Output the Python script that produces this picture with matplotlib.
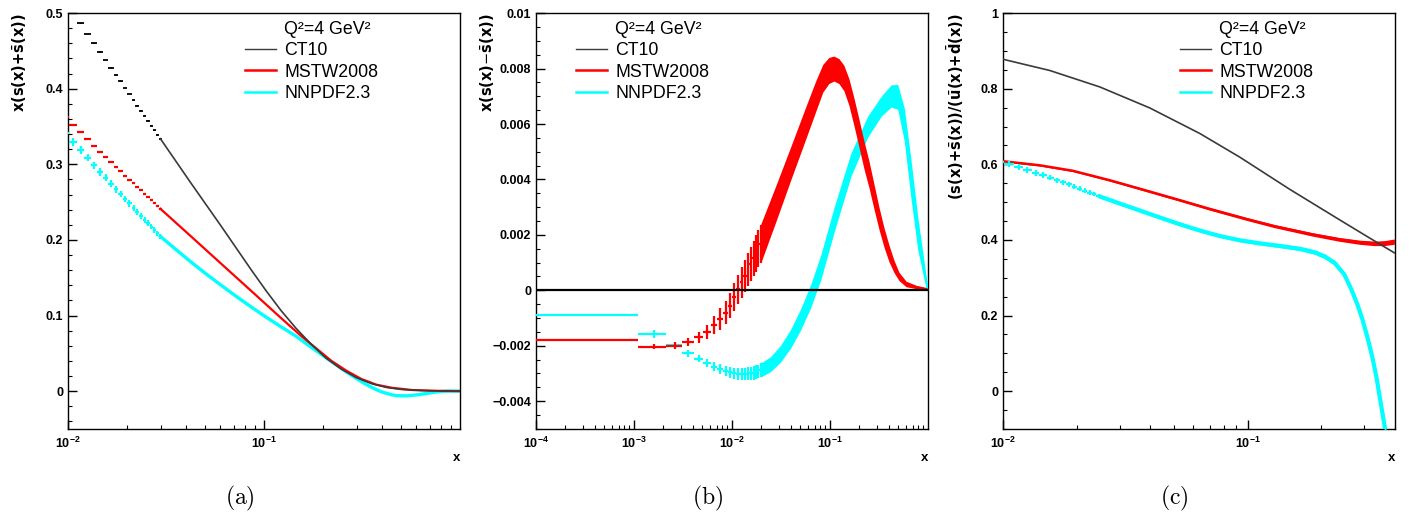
import numpy as np
import matplotlib
matplotlib.use('Agg')
import matplotlib.pyplot as plt
from matplotlib.lines import Line2D
from matplotlib.ticker import FixedLocator, MultipleLocator, NullFormatter

plt.rcParams['font.family'] = ['Liberation Sans', 'DejaVu Sans']
plt.rcParams['mathtext.fontset'] = 'custom'
plt.rcParams['mathtext.rm'] = 'Liberation Sans'
plt.rcParams['mathtext.bf'] = 'Liberation Sans:bold'
plt.rcParams['mathtext.it'] = 'Liberation Sans:italic'

HALF_BIN = 0.0005   # histograms have linear bins of width 0.001
C_CT10, C_MSTW, C_NNPDF = '#3a3a3a', '#ff0000', '#00ffff'
LABELS = ['CT10', 'MSTW2008', 'NNPDF2.3']
HEADER = 'Q²=4 GeV²'

#%% (a) x(s+sbar)
a_x = [0.0096, 0.0106, 0.0116, 0.0126, 0.0136, 0.0146, 0.0156, 0.0166, 0.0176, 0.0186, 0.0196,
       0.0206, 0.0216, 0.0226, 0.0236, 0.0246, 0.0256, 0.0266, 0.0276, 0.0286, 0.0296]
a_ct10 = [0.514, 0.501, 0.4865, 0.4724, 0.460, 0.4487, 0.438, 0.4276, 0.418, 0.4096, 0.4009,
          0.393, 0.385, 0.3776, 0.3706, 0.364, 0.3575, 0.3513, 0.3451, 0.339, 0.333]
a_mstw = [0.363, 0.3522, 0.3421, 0.3329, 0.3246, 0.3167, 0.3096, 0.3026, 0.297, 0.2908, 0.2851,
          0.2799, 0.275, 0.2701, 0.2658, 0.2614, 0.257, 0.2531, 0.249, 0.245, 0.2413]
a_nnpdf = [0.341, 0.3294, 0.3184, 0.3088, 0.2987, 0.2899, 0.282, 0.2741, 0.2671, 0.2609, 0.2544,
           0.2483, 0.2425, 0.237, 0.2318, 0.2268, 0.222, 0.2175, 0.213, 0.2088, 0.2047]
a_nnpdf_err = [0.0055, 0.0053, 0.0052, 0.005, 0.0049, 0.0048, 0.0047, 0.0046, 0.0045, 0.0044, 0.0043,
               0.0042, 0.0041, 0.004, 0.0039, 0.0038, 0.0037, 0.0036, 0.0035, 0.0034, 0.0033]

a_xc_ct10 = [0.0296, 0.0422, 0.0602, 0.0858, 0.1024, 0.1222, 0.1459, 0.1742, 0.2079, 0.2483,
             0.2964, 0.3538, 0.4224, 0.5042, 0.6385, 0.8088, 1.0]
a_ct10_c = [0.334, 0.276, 0.219, 0.161, 0.133, 0.1066, 0.083, 0.062, 0.0434, 0.029,
            0.0178, 0.0099, 0.0049, 0.0022, 0.0009, 0.0003, 0.0]
a_xc_mstw = [0.0296, 0.0422, 0.0602, 0.0858, 0.1222, 0.1547, 0.1848, 0.2207, 0.2634, 0.3144,
             0.3753, 0.448, 0.5673, 0.7185, 1.0]
a_mstw_c = [0.2413, 0.2053, 0.169, 0.1329, 0.0967, 0.073, 0.0566, 0.040, 0.027, 0.016,
            0.0085, 0.0045, 0.0015, 0.0005, 0.0]
a_xc_nnpdf = [0.0296, 0.0354, 0.0422, 0.0504, 0.0602, 0.0719, 0.0858, 0.1024, 0.1222, 0.1459,
              0.1742, 0.2079, 0.2483, 0.2793, 0.3144, 0.3538, 0.3981, 0.448, 0.4753, 0.5348,
              0.6019, 0.6773, 0.7621, 0.8576, 1.0]
a_nnpdf_c = [0.2047, 0.1877, 0.1713, 0.1555, 0.1404, 0.1257, 0.1116, 0.098, 0.0851, 0.0726,
             0.058, 0.044, 0.030, 0.021, 0.0125, 0.005, -0.001, -0.0048, -0.006, -0.0063,
             -0.005, -0.003, -0.001, 0.0, 0.0]

#%% (b) x(s-sbar)
b_x = [0.0006, 0.0016, 0.0026, 0.0036, 0.0046, 0.0056, 0.0066, 0.0076, 0.0086, 0.0096,
       0.0106, 0.0116, 0.0126, 0.0136, 0.0146, 0.0156, 0.0166, 0.0176, 0.0186, 0.0196]
b_mstw = [-0.00179, -0.00203, -0.00200, -0.00186, -0.0017, -0.00149, -0.00126, -0.00104, -0.0008, -0.00056,
          -0.00025, 0.00003, 0.00029, 0.00053, 0.00075, 0.00096, 0.00115, 0.00133, 0.00151, 0.00167]
b_mstw_err = [0.00004, 0.0001, 0.00012, 0.00015, 0.00019, 0.00025, 0.00032, 0.0004, 0.00042, 0.00045,
              0.0005, 0.00052, 0.00055, 0.00058, 0.0006, 0.00062, 0.00064, 0.00066, 0.00068, 0.0007]
b_nnpdf = [-0.00089, -0.00157, -0.00199, -0.00227, -0.00246, -0.00261, -0.00275, -0.00284, -0.00291, -0.00296,
           -0.00299, -0.00301, -0.00302, -0.00302, -0.00301, -0.003, -0.00298, -0.00295, -0.00292, -0.00288]
b_nnpdf_err = [0.00004, 0.00014, 0.00012, 0.00013, 0.00014, 0.00015, 0.00016, 0.00017, 0.00018, 0.0002,
               0.0002, 0.00021, 0.00022, 0.00022, 0.00023, 0.00023, 0.00024, 0.00024, 0.00024, 0.00025]

b_xc_mstw = [0.0196, 0.02794, 0.03981, 0.05666, 0.07175, 0.08458, 0.09743, 0.1096, 0.1234, 0.1388,
             0.1561, 0.1756, 0.1976, 0.2223, 0.2501, 0.2813, 0.3166, 0.3561, 0.4007, 0.4509,
             0.5072, 0.5984, 0.7572, 0.9585, 1.0]
b_mstw_c = [0.00167, 0.00311, 0.00458, 0.00604, 0.00701, 0.00765, 0.00793, 0.0080, 0.00791, 0.00766,
            0.00716, 0.00645, 0.00568, 0.00489, 0.00419, 0.00339, 0.0026, 0.00191, 0.00133, 0.00086,
            0.0005, 0.00023, 0.00012, 0.00005, 0.0]
b_mstw_c_err = [0.0007, 0.00065, 0.0006, 0.00058, 0.00055, 0.0005, 0.00047, 0.00045, 0.00045, 0.00046,
                0.00048, 0.0005, 0.0005, 0.0005, 0.00048, 0.00045, 0.0004, 0.00035, 0.0003, 0.00022,
                0.00015, 0.0001, 0.00006, 0.00003, 0.0]
b_xc_nnpdf = [0.0196, 0.02484, 0.03144, 0.03981, 0.05037, 0.06376, 0.0807, 0.1104, 0.1637, 0.2426,
              0.3319, 0.4201, 0.4919, 0.5748, 0.673, 0.788, 0.921, 1.0]
b_nnpdf_c = [-0.00288, -0.00266, -0.00228, -0.00174, -0.00104, -0.0002, 0.00083, 0.00255, 0.00453, 0.0059,
             0.00663, 0.00701, 0.00698, 0.00597, 0.00399, 0.00205, 0.00065, 0.0]
b_nnpdf_c_err = [0.00025, 0.00027, 0.0003, 0.00034, 0.00038, 0.00042, 0.00045, 0.00045, 0.00042, 0.00038,
                 0.00036, 0.0004, 0.00045, 0.0006, 0.0007, 0.0006, 0.0003, 0.0]
b_ct10_x = [0.0001, 1.0]
b_ct10 = [0.0, 0.0]

#%% (c) (s+sbar)/(ubar+dbar)
c_x = [0.0096, 0.0106, 0.0116, 0.0126, 0.0136, 0.0146, 0.0156, 0.0166,
       0.0176, 0.0186, 0.0196, 0.0206, 0.0216, 0.0226, 0.0236, 0.0246]
c_nnpdf = [0.607, 0.6018, 0.593, 0.584, 0.577, 0.571, 0.565, 0.558,
           0.552, 0.547, 0.541, 0.536, 0.530, 0.525, 0.521, 0.516]
c_nnpdf_err = [0.008, 0.008, 0.008, 0.0078, 0.0076, 0.0074, 0.0072, 0.007,
               0.0068, 0.0066, 0.0065, 0.0064, 0.0063, 0.0062, 0.0061, 0.006]
c_xc_ct10 = [0.01, 0.01555, 0.02489, 0.03981, 0.06369, 0.0928, 0.1484, 0.2374, 0.3148, 0.3981]
c_ct10 = [0.878, 0.8482, 0.8047, 0.7492, 0.6818, 0.6192, 0.5342, 0.4534, 0.4053, 0.3658]
c_xc_mstw = [0.0096, 0.01416, 0.01931, 0.02733, 0.03624, 0.05277, 0.06997, 0.0991, 0.1289, 0.1842,
             0.2374, 0.2865, 0.3298, 0.3624, 0.3981]
c_mstw = [0.6095, 0.5974, 0.5829, 0.5579, 0.5355, 0.5053, 0.4821, 0.4553, 0.4363, 0.4145,
          0.4013, 0.3939, 0.3908, 0.3916, 0.3955]
c_mstw_err = [0.002, 0.002, 0.0022, 0.0025, 0.0028, 0.003, 0.0033, 0.0037, 0.004, 0.0045,
              0.005, 0.0055, 0.006, 0.0065, 0.007]
c_xc_nnpdf = [0.0246, 0.03003, 0.03624, 0.04373, 0.05277, 0.06369, 0.07686, 0.0928, 0.1119, 0.1351,
              0.163, 0.1877, 0.2062, 0.2265, 0.2488, 0.2657, 0.2812, 0.2947, 0.3089, 0.3236,
              0.3361, 0.349, 0.359, 0.3693]
c_nnpdf_c = [0.516, 0.4963, 0.4779, 0.4595, 0.4416, 0.425, 0.4105, 0.3992, 0.3911, 0.3842,
             0.3768, 0.3676, 0.3566, 0.3395, 0.3079, 0.2684, 0.2289, 0.1895, 0.1421, 0.0895,
             0.0368, -0.0263, -0.0737, -0.121]
c_nnpdf_c_err = [0.004, 0.004, 0.004, 0.004, 0.004, 0.004, 0.004, 0.004, 0.0042, 0.0045,
                 0.005, 0.0055, 0.006, 0.0065, 0.007, 0.008, 0.009, 0.01, 0.011, 0.012,
                 0.013, 0.014, 0.015, 0.015]


def points(ax, x, y, err, color, lw=1.6):
    ax.errorbar(x, y, xerr=HALF_BIN, yerr=err, fmt='none', ecolor=color,
                elinewidth=lw, capsize=0, zorder=3)


def band(ax, x, y, err, color, lw=1.6):
    y, err = np.asarray(y), np.asarray(err)
    ax.fill_between(x, y - err, y + err, color=color, lw=0, zorder=3)
    ax.plot(x, y, color=color, lw=lw, zorder=3, solid_capstyle='butt')


def style(ax, xlim, ylim, xdecades, ymajor, yminor, ylabel, legx):
    ax.set_xscale('log')
    ax.set_xlim(*xlim)
    ax.set_ylim(*ylim)
    ax.xaxis.set_major_locator(FixedLocator(xdecades))
    ax.set_xticklabels([r'$\mathbf{10^{%d}}$' % round(np.log10(d)) for d in xdecades])
    ax.xaxis.set_minor_locator(FixedLocator([m * d for d in xdecades for m in range(2, 10)]))
    ax.xaxis.set_minor_formatter(NullFormatter())
    ax.yaxis.set_major_locator(MultipleLocator(ymajor))
    ax.yaxis.set_minor_locator(MultipleLocator(yminor))
    ax.yaxis.set_major_formatter(lambda v, p: ('%g' % round(v, 6)).replace('-', '\u2212'))
    ax.tick_params(which='both', direction='in', top=False, right=False, labelsize=9)
    ax.tick_params(which='major', length=6.5, width=1.0)
    ax.tick_params(which='minor', length=3.2, width=0.8)
    ax.tick_params(axis='x', pad=5)
    for lab in ax.get_yticklabels():
        lab.set_fontweight('bold')
    for sp in ax.spines.values():
        sp.set_linewidth(1.0)
    ax.set_xlabel('x', loc='right', fontsize=9.5, fontweight='bold', labelpad=1)
    ax.text(-0.122, 1.0, ylabel, transform=ax.transAxes, rotation=90, ha='center', va='top',
            fontsize=10.5, fontweight='bold', family='DejaVu Sans', math_fontfamily='dejavusans')
    handles = [Line2D([], [], color='none'),
               Line2D([], [], color=C_CT10, lw=1.0),
               Line2D([], [], color=C_MSTW, lw=1.8),
               Line2D([], [], color=C_NNPDF, lw=1.8)]
    ax.legend(handles, [HEADER] + LABELS, loc='upper left', bbox_to_anchor=(legx, 0.981),
              frameon=False, fontsize=12.8, handlelength=1.72, handletextpad=0.48,
              labelspacing=0.24, borderpad=0, borderaxespad=0)


fig = plt.figure(figsize=(14.1, 5.25), dpi=100)
axes = [fig.add_axes([l, 0.183, 0.278, 0.792]) for l in (0.0482, 0.3801, 0.7113)]

ax = axes[0]
points(ax, a_x, a_ct10, 0.0006, 'black', 1.3)
ax.plot(a_xc_ct10, a_ct10_c, color=C_CT10, lw=1.2, zorder=4)
points(ax, a_x, a_mstw, 0.0012, C_MSTW, 1.6)
ax.plot(a_xc_mstw, a_mstw_c, color=C_MSTW, lw=1.6, zorder=3)
points(ax, a_x, a_nnpdf, a_nnpdf_err, C_NNPDF, 1.6)
ax.plot(a_xc_nnpdf, a_nnpdf_c, color=C_NNPDF, lw=2.4, zorder=2)
style(ax, (0.01, 1.0), (-0.05, 0.5), [0.01, 0.1], 0.1, 0.02, r'x(s(x)+$\bar{\mathbf{s}}$(x))', 0.452)

ax = axes[1]
ax.plot(b_ct10_x, b_ct10, color='black', lw=1.6, zorder=4)
points(ax, b_x, b_nnpdf, b_nnpdf_err, C_NNPDF, 1.6)
band(ax, b_xc_nnpdf, b_nnpdf_c, b_nnpdf_c_err, C_NNPDF)
points(ax, b_x, b_mstw, b_mstw_err, C_MSTW, 1.6)
band(ax, b_xc_mstw, b_mstw_c, b_mstw_c_err, C_MSTW)
style(ax, (0.0001, 1.0), (-0.005, 0.01), [0.0001, 0.001, 0.01, 0.1], 0.002, 0.0005,
      r'x(s(x)$-\bar{\mathbf{s}}$(x))', 0.102)

ax = axes[2]
ax.plot(c_xc_ct10, c_ct10, color=C_CT10, lw=1.2, zorder=4)
band(ax, c_xc_mstw, c_mstw, c_mstw_err, C_MSTW, 1.8)
points(ax, c_x, c_nnpdf, c_nnpdf_err, C_NNPDF, 1.6)
band(ax, c_xc_nnpdf, c_nnpdf_c, c_nnpdf_c_err, C_NNPDF, 3.0)
style(ax, (0.01, 0.4), (-0.1, 1.0), [0.01, 0.1], 0.2, 0.05,
      r'(s(x)+$\bar{\mathbf{s}}$(x))/($\bar{\mathbf{u}}$(x)+$\bar{\mathbf{d}}$(x))', 0.452)

for xc, tag in zip((0.170, 0.5015, 0.833), ('(a)', '(b)', '(c)')):
    fig.text(xc, 0.051, r'$\mathrm{%s}$' % tag, math_fontfamily='cm', fontsize=17,
             ha='center', va='center')

fig.savefig('out.png', dpi=100)
